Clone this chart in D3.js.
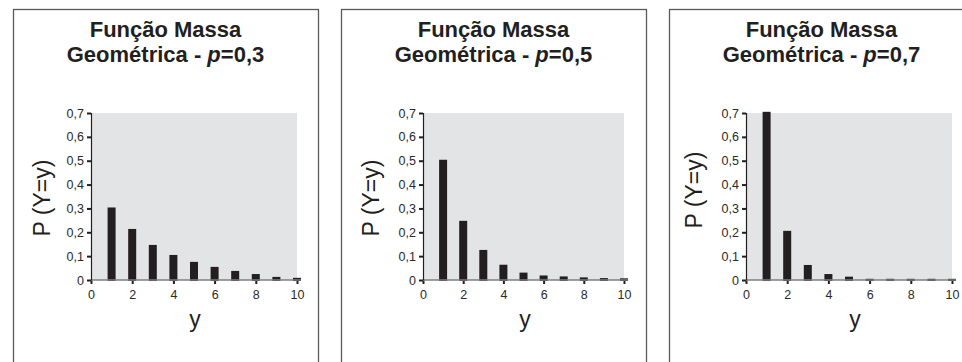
<!DOCTYPE html>
<html><head><meta charset="utf-8">
<script src="https://cdn.jsdelivr.net/npm/d3@7"></script>
<style>
body{margin:0;background:#fff;}
svg{display:block;font-family:"Liberation Sans",Arial,sans-serif;}
</style></head>
<body>
<svg id="c" width="962" height="362"></svg>
<script>
// ---- data ----
const categories = [1,2,3,4,5,6,7,8,9,10];
const pLabels = ["0,3","0,5","0,7"];
const seriesP03 = [0.304,0.214,0.147,0.105,0.076,0.055,0.038,0.025,0.013,0.009];
const seriesP05 = [0.504,0.248,0.126,0.064,0.031,0.019,0.015,0.011,0.008,0.007];
const seriesP07 = [0.705,0.206,0.063,0.025,0.014,0.005,0.005,0.005,0.005,0.005];
const xTicks = [0,2,4,6,8,10];
const yTicks = [0,0.1,0.2,0.3,0.4,0.5,0.6,0.7];
const titleLine1 = "Função Massa";
const titleLine2 = "Geométrica - ";
const yLabel = "P (Y=y)";
const xLabel = "y";

const allSeries = [seriesP03, seriesP05, seriesP07];
// layout per panel
const layout = [
  {left:13,  plotL:91,  plotR:297, yLabX:50,  yLabY:198, xLabX:195},
  {left:341, plotL:423, plotR:624, yLabX:379, yLabY:198, xLabX:525},
  {left:669, plotL:746, plotR:952, yLabX:702, yLabY:190, xLabX:855}
];
const panelW = 305, panelTop = 9, plotTop = 113, plotBot = 280;

const svg = d3.select("#c");
const fmt = d => d === 0 ? "0" : d3.format(".1f")(d).replace(".", ",");

allSeries.forEach((vals, i) => {
  const L = layout[i];
  const g = svg.append("g");
  // panel border
  g.append("rect").attr("x", L.left + 0.5).attr("y", panelTop + 0.5)
    .attr("width", panelW).attr("height", 400)
    .attr("fill", "#fff").attr("stroke", "#5a5a5a").attr("stroke-width", 1.3);

  // title
  const cx = L.left + panelW / 2;
  g.append("text").attr("x", cx).attr("y", 37).attr("text-anchor", "middle")
    .attr("font-size", 22).attr("font-weight", "bold").attr("fill", "#231f20")
    .text(titleLine1);
  const t2 = g.append("text").attr("x", cx).attr("y", 62).attr("text-anchor", "middle")
    .attr("font-size", 22).attr("font-weight", "bold").attr("fill", "#231f20");
  t2.append("tspan").text(titleLine2);
  t2.append("tspan").attr("font-style", "italic").text("p");
  t2.append("tspan").text("=" + pLabels[i]);

  const x = d3.scaleLinear().domain([0, 10]).range([L.plotL, L.plotR]);
  const y = d3.scaleLinear().domain([0, 0.7]).range([plotBot, plotTop]);

  // plot background
  g.append("rect").attr("x", x(0)).attr("y", y(0.7))
    .attr("width", x(10) - x(0)).attr("height", y(0) - y(0.7))
    .attr("fill", "#e3e4e6");

  // bars
  const bw = 8;
  g.selectAll("rect.bar").data(categories.map((c, k) => ({c, v: vals[k]})))
    .join("rect").attr("class", "bar")
    .attr("x", d => x(d.c) - bw / 2).attr("width", bw)
    .attr("y", d => y(d.v)).attr("height", d => y(0) - y(d.v) + 1)
    .attr("fill", "#231f20");

  // x axis
  const xa = g.append("g").attr("transform", `translate(0,${plotBot})`)
    .call(d3.axisBottom(x).tickValues(xTicks).tickSize(4).tickPadding(6).tickFormat(d3.format("d")));
  xa.attr("font-size", null).attr("font-family", null);
  xa.select(".domain").remove();
  xa.append("line").attr("x1", x(0)).attr("x2", x(10) + 4).attr("y1", 0).attr("y2", 0)
    .attr("stroke", "#7f7f7f").attr("stroke-width", 1.5);
  xa.selectAll(".tick line").attr("stroke", "#231f20").attr("stroke-width", 2);
  xa.selectAll(".tick text").style("font-size", "12.5px").attr("fill", "#2a2a2a");

  // y axis
  const ya = g.append("g").attr("transform", `translate(${L.plotL},0)`)
    .call(d3.axisLeft(y).tickValues(yTicks).tickSize(4).tickPadding(3).tickFormat(fmt));
  ya.attr("font-size", null).attr("font-family", null);
  ya.select(".domain").attr("stroke", "#231f20").attr("stroke-width", 1.2)
    .attr("d", `M0.5,${plotTop}V${plotBot}`);
  ya.selectAll(".tick line").attr("stroke", "#231f20").attr("stroke-width", 2);
  ya.selectAll(".tick text").style("font-size", "12.5px").attr("fill", "#2a2a2a");

  // axis labels
  g.append("text").attr("transform", `translate(${L.yLabX},${L.yLabY}) rotate(-90)`)
    .attr("text-anchor", "middle").attr("font-size", 23).attr("fill", "#231f20")
    .text(yLabel);
  g.append("text").attr("x", L.xLabX).attr("y", 327).attr("text-anchor", "middle")
    .attr("font-size", 23).attr("fill", "#231f20").text(xLabel);
});
</script>
</body></html>
